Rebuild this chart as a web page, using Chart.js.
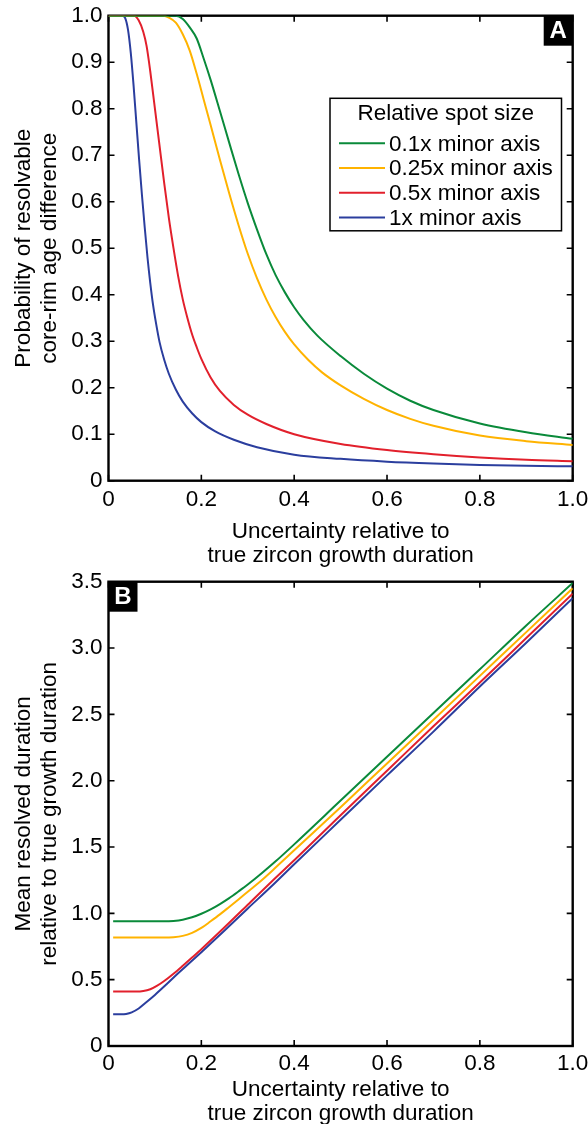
<!DOCTYPE html>
<html>
<head>
<meta charset="utf-8">
<script src="https://cdn.jsdelivr.net/npm/chart.js@4.4.0/dist/chart.umd.min.js"></script>
<style>
  html, body { margin: 0; padding: 0; background: #fff; }
  body { width: 588px; height: 1124px; position: relative; overflow: hidden; }
  .panel { position: absolute; left: 0; }
  #panel-a { top: 0; }
  #panel-b { top: 560px; }
</style>
</head>
<body>
<div class="panel" id="panel-a"><canvas id="chart-a" width="588" height="580"></canvas></div>
<div class="panel" id="panel-b"><canvas id="chart-b" width="588" height="566"></canvas></div>
<script>
// --- DATA ---
const spotLabels = ['0.1x minor axis', '0.25x minor axis', '0.5x minor axis', '1x minor axis'];
const spotColors = ['#0a8a3a', '#ffb300', '#e2202c', '#2b3e9e'];

const uncertaintyTicks = ['0', '0.2', '0.4', '0.6', '0.8', '1.0'];
const probabilityTicks = ['0', '0.1', '0.2', '0.3', '0.4', '0.5', '0.6', '0.7', '0.8', '0.9', '1.0'];
const durationTicks = ['0', '0.5', '1.0', '1.5', '2.0', '2.5', '3.0', '3.5'];

// A: probability of resolvable core-rim age difference
const probX01 = [0, 0.145, 0.16, 0.175, 0.19, 0.205, 0.22, 0.24, 0.26, 0.28, 0.30, 0.32, 0.34, 0.36, 0.38, 0.40, 0.42, 0.45, 0.50, 0.55, 0.60, 0.65, 0.70, 0.80, 0.90, 1.0];
const probY01 = [1, 1, 0.993, 0.975, 0.951, 0.908, 0.862, 0.795, 0.727, 0.66, 0.597, 0.54, 0.487, 0.442, 0.405, 0.373, 0.346, 0.312, 0.268, 0.23, 0.198, 0.172, 0.152, 0.123, 0.104, 0.09];

const probX025 = [0, 0.118, 0.13, 0.145, 0.16, 0.175, 0.19, 0.205, 0.22, 0.24, 0.26, 0.28, 0.30, 0.32, 0.34, 0.36, 0.38, 0.40, 0.43, 0.46, 0.50, 0.55, 0.60, 0.65, 0.70, 0.80, 0.90, 1.0];
const probY025 = [1, 1, 0.996, 0.985, 0.96, 0.925, 0.875, 0.82, 0.765, 0.69, 0.618, 0.55, 0.488, 0.435, 0.39, 0.352, 0.32, 0.293, 0.26, 0.233, 0.205, 0.176, 0.152, 0.133, 0.118, 0.097, 0.085, 0.077];

const probX05 = [0, 0.055, 0.065, 0.075, 0.082, 0.09, 0.10, 0.11, 0.12, 0.13, 0.14, 0.15, 0.16, 0.17, 0.18, 0.19, 0.20, 0.22, 0.24, 0.27, 0.30, 0.34, 0.40, 0.50, 0.60, 0.70, 0.80, 0.90, 1.0];
const probY05 = [1, 1, 0.99, 0.965, 0.935, 0.88, 0.80, 0.72, 0.64, 0.565, 0.50, 0.44, 0.39, 0.35, 0.315, 0.287, 0.262, 0.222, 0.193, 0.163, 0.142, 0.122, 0.10, 0.079, 0.066, 0.057, 0.05, 0.045, 0.042];

const probX1 = [0, 0.03, 0.036, 0.042, 0.048, 0.054, 0.06, 0.066, 0.072, 0.078, 0.084, 0.09, 0.096, 0.103, 0.11, 0.12, 0.13, 0.145, 0.16, 0.18, 0.20, 0.23, 0.27, 0.32, 0.40, 0.50, 0.60, 0.70, 0.80, 0.90, 1.0];
const probY1 = [1, 1, 0.995, 0.97, 0.92, 0.85, 0.77, 0.69, 0.615, 0.545, 0.48, 0.425, 0.378, 0.335, 0.298, 0.26, 0.23, 0.196, 0.17, 0.145, 0.126, 0.106, 0.088, 0.072, 0.056, 0.047, 0.041, 0.037, 0.034, 0.032, 0.031];

// B: mean resolved duration relative to true growth duration
const durX01 = [0.01, 0.06, 0.12, 0.14, 0.16, 0.18, 0.20, 0.22, 0.24, 0.26, 0.28, 0.30, 0.33, 0.36, 0.40, 0.50, 0.60, 0.70, 0.80, 0.90, 1.0];
const durY01 = [0.94, 0.94, 0.94, 0.943, 0.952, 0.97, 0.997, 1.03, 1.07, 1.115, 1.165, 1.217, 1.302, 1.392, 1.52, 1.85, 2.18, 2.51, 2.84, 3.17, 3.49];

const durX025 = [0.01, 0.06, 0.12, 0.14, 0.16, 0.18, 0.20, 0.22, 0.24, 0.26, 0.28, 0.30, 0.33, 0.36, 0.40, 0.50, 0.60, 0.70, 0.80, 0.90, 1.0];
const durY025 = [0.817, 0.817, 0.817, 0.82, 0.83, 0.853, 0.89, 0.94, 0.992, 1.048, 1.105, 1.163, 1.25, 1.345, 1.475, 1.80, 2.13, 2.46, 2.79, 3.12, 3.45];

const durX05 = [0.01, 0.06, 0.075, 0.09, 0.105, 0.12, 0.14, 0.16, 0.18, 0.20, 0.25, 0.30, 0.35, 0.40, 0.50, 0.60, 0.70, 0.80, 0.90, 1.0];
const durY05 = [0.41, 0.41, 0.414, 0.428, 0.455, 0.49, 0.545, 0.605, 0.667, 0.73, 0.895, 1.065, 1.235, 1.40, 1.74, 2.075, 2.41, 2.74, 3.075, 3.41];

const durX1 = [0.01, 0.028, 0.038, 0.05, 0.065, 0.08, 0.10, 0.125, 0.15, 0.175, 0.20, 0.25, 0.30, 0.35, 0.40, 0.50, 0.60, 0.70, 0.80, 0.90, 1.0];
const durY1 = [0.239, 0.239, 0.242, 0.254, 0.283, 0.326, 0.385, 0.465, 0.548, 0.627, 0.707, 0.87, 1.037, 1.20, 1.37, 1.705, 2.04, 2.37, 2.71, 3.04, 3.376];

// --- ESTILO GENERAL ---
const FONT = '"Liberation Sans", Arial, Helvetica, sans-serif';
const FONT_SIZE = 22.5;
Chart.defaults.font.family = FONT;
Chart.defaults.font.size = FONT_SIZE;
Chart.defaults.color = '#000';

const TICK_LEN = 6;

const toPoints = (xs, ys) => xs.map((x, i) => ({ x, y: ys[i] }));

const makeDatasets = (series) => series.map(([xs, ys], i) => ({
    label: spotLabels[i],
    data: toPoints(xs, ys),
    borderColor: spotColors[i],
    backgroundColor: spotColors[i],
    borderWidth: 2,
    pointRadius: 0,
    fill: false,
    cubicInterpolationMode: 'monotone',
}));

// marco cerrado con ticks hacia dentro en los cuatro lados
const framePlugin = {
    id: 'frame',
    beforeDatasetsDraw(chart) {
        const { ctx, chartArea: { left, right, top, bottom }, scales: { x, y } } = chart;
        ctx.save();
        ctx.strokeStyle = '#000';
        ctx.lineWidth = 2.4;
        ctx.strokeRect(left, top, right - left, bottom - top);
        ctx.lineWidth = 1.6;
        ctx.beginPath();
        x.ticks.forEach(t => {
            const px = x.getPixelForValue(t.value);
            ctx.moveTo(px, bottom); ctx.lineTo(px, bottom - TICK_LEN);
            ctx.moveTo(px, top); ctx.lineTo(px, top + TICK_LEN);
        });
        y.ticks.forEach(t => {
            const py = y.getPixelForValue(t.value);
            ctx.moveTo(left, py); ctx.lineTo(left + TICK_LEN, py);
            ctx.moveTo(right, py); ctx.lineTo(right - TICK_LEN, py);
        });
        ctx.stroke();
        ctx.restore();
    }
};

// etiqueta de panel (A / B) en caja negra
const panelTagPlugin = {
    id: 'panelTag',
    afterDraw(chart, args, opts) {
        if (!opts.text) return;
        const { ctx, chartArea: { left, right, top } } = chart;
        const w = 29, h = 30;
        const x0 = opts.corner === 'right' ? right - w : left;
        ctx.save();
        ctx.fillStyle = '#000';
        ctx.fillRect(x0, top, w, h);
        ctx.fillStyle = '#fff';
        ctx.font = `bold 24px ${FONT}`;
        ctx.textAlign = 'center';
        ctx.textBaseline = 'middle';
        ctx.fillText(opts.text, x0 + w / 2, top + h / 2 + 1);
        ctx.restore();
    }
};

// leyenda con recuadro dentro del área del gráfico
const boxLegendPlugin = {
    id: 'boxLegend',
    afterDatasetsDraw(chart, args, opts) {
        if (!opts.title) return;
        const { ctx, chartArea: { left, top } } = chart;
        const bx = left + 221.5, by = top + 82.6, bw = 231.5, bh = 132.5;
        ctx.save();
        ctx.fillStyle = '#fff';
        ctx.fillRect(bx, by, bw, bh);
        ctx.strokeStyle = '#000';
        ctx.lineWidth = 1.5;
        ctx.strokeRect(bx, by, bw, bh);
        ctx.fillStyle = '#000';
        ctx.font = `${FONT_SIZE}px ${FONT}`;
        ctx.textBaseline = 'middle';
        ctx.textAlign = 'center';
        ctx.fillText(opts.title, bx + bw / 2, by + 15.5);
        ctx.textAlign = 'left';
        chart.data.datasets.forEach((ds, i) => {
            const ly = by + 45 + i * 24.7;
            ctx.strokeStyle = ds.borderColor;
            ctx.lineWidth = 2;
            ctx.beginPath();
            ctx.moveTo(bx + 9, ly);
            ctx.lineTo(bx + 55, ly);
            ctx.stroke();
            ctx.fillStyle = '#000';
            ctx.fillText(ds.label, bx + 59, ly + 1);
        });
        ctx.restore();
    }
};

const buildChart = (canvas, cfg) => new Chart(canvas, {
    type: 'line',
    data: { datasets: makeDatasets(cfg.series) },
    options: {
        responsive: false,
        animation: false,
        events: [],
        layout: { padding: { top: cfg.plotTop, right: 588 - 572.7, left: 0, bottom: 0 } },
        scales: {
            x: {
                type: 'linear',
                min: 0,
                max: 1,
                grid: { display: false, drawTicks: false },
                border: { display: false },
                ticks: {
                    stepSize: 0.2,
                    padding: cfg.xTickPad,
                    maxRotation: 0,
                    autoSkip: false,
                    callback: (v, i) => uncertaintyTicks[i],
                },
                title: {
                    display: true,
                    text: ['Uncertainty relative to', 'true zircon growth duration'],
                    font: { size: FONT_SIZE, lineHeight: '24px' },
                    padding: { top: 0, bottom: cfg.xTitlePad },
                },
                afterFit: (scale) => {
                    scale.height = canvas.height - cfg.plotBottom;
                    scale.paddingLeft = 0;
                    scale.paddingRight = 0;
                },
            },
            y: {
                min: 0,
                max: cfg.yMax,
                grid: { display: false, drawTicks: false },
                border: { display: false },
                ticks: {
                    stepSize: cfg.yStep,
                    padding: 6,
                    autoSkip: false,
                    callback: (v, i) => cfg.yLabels[i],
                },
                title: {
                    display: true,
                    text: cfg.yTitle,
                    font: { size: FONT_SIZE, lineHeight: '26px' },
                    padding: { top: 11, bottom: 0 },
                },
                afterFit: (scale) => {
                    scale.width = 108.5;
                    scale.paddingTop = 0;
                    scale.paddingBottom = 0;
                },
            },
        },
        plugins: {
            legend: { display: false },
            tooltip: { enabled: false },
            panelTag: cfg.tag,
            boxLegend: cfg.legend,
        },
    },
    plugins: [framePlugin, panelTagPlugin, boxLegendPlugin],
});

buildChart(document.querySelector('#chart-a'), {
    series: [[probX01, probY01], [probX025, probY025], [probX05, probY05], [probX1, probY1]],
    plotTop: 15.7,
    plotBottom: 480.7,
    xTickPad: 6,
    xTitlePad: 12.5,
    yMax: 1,
    yStep: 0.1,
    yLabels: probabilityTicks,
    yTitle: ['Probability of resolvable', 'core-rim age difference'],
    tag: { text: 'A', corner: 'right' },
    legend: { title: 'Relative spot size' },
});

buildChart(document.querySelector('#chart-b'), {
    series: [[durX01, durY01], [durX025, durY025], [durX05, durY05], [durX1, durY1]],
    plotTop: 21.7,
    plotBottom: 486,
    xTickPad: 4,
    xTitlePad: 0,
    yMax: 3.5,
    yStep: 0.5,
    yLabels: durationTicks,
    yTitle: ['Mean resolved duration', 'relative to true growth duration'],
    tag: { text: 'B', corner: 'left' },
    legend: {},
});
</script>
</body>
</html>
